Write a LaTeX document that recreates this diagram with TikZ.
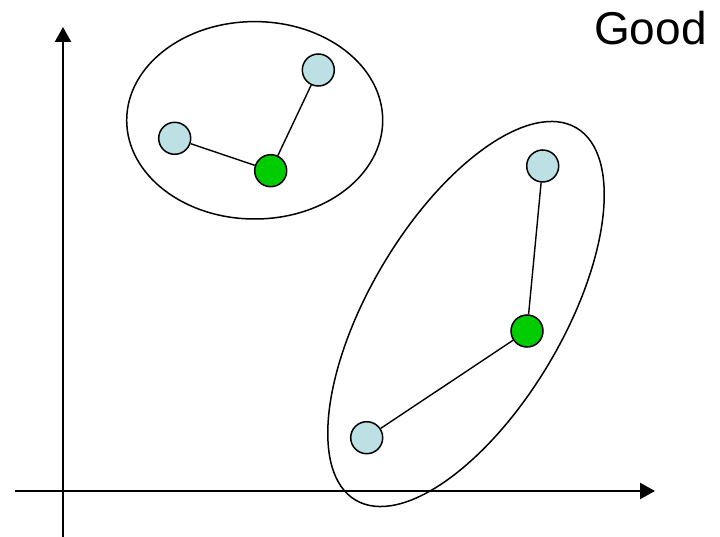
\documentclass[tikz,border=0pt]{standalone}
\usepackage{fontspec}
\setmainfont{Liberation Sans}
\usetikzlibrary{arrows.meta}
\definecolor{pale}{HTML}{BCE0E3}
\definecolor{grn}{HTML}{00CC00}
\begin{document}
\begin{tikzpicture}[x=1pt,y=-1pt,
  axis/.style={line width=2.3pt,-{Triangle[width=16pt,length=15pt]}},
  cluster/.style={line width=1.5pt},
  edge/.style={line width=1.4pt},
  member/.style={circle,draw,line width=1.5pt,fill=pale,minimum size=32pt,inner sep=0pt},
  centre/.style={member,fill=grn}]
\useasboundingbox (0,0) rectangle (720,537);
% axes
\coordinate (ybot) at (63,537);
\coordinate (ytop) at (63,27);
\coordinate (xl) at (15,491);
\coordinate (xr) at (655,491);
\draw[axis] (ybot) -- (ytop);
\draw[axis] (xl) -- (xr);
% clusters
\draw[cluster] (254.7,120.3) ellipse [x radius=128, y radius=98.7];
\draw[cluster] (466,314) ellipse [x radius=216.4, y radius=96.6, rotate=59.3];
% nodes
\node[member] (a1) at (174.7,138.3) {};
\node[member] (a2) at (318.3,70) {};
\node[centre] (ac) at (270.7,170.7) {};
\node[member] (b1) at (542.7,166) {};
\node[centre] (bc) at (527,331) {};
\node[member] (b2) at (366.7,437.7) {};
\draw[edge] (a1) -- (ac);
\draw[edge] (a2) -- (ac);
\draw[edge] (b1) -- (bc);
\draw[edge] (b2) -- (bc);
\node[anchor=base west,inner sep=0pt,font=\fontsize{46}{50}\selectfont] (good) at (594,45) {Good};
\end{tikzpicture}
\end{document}
